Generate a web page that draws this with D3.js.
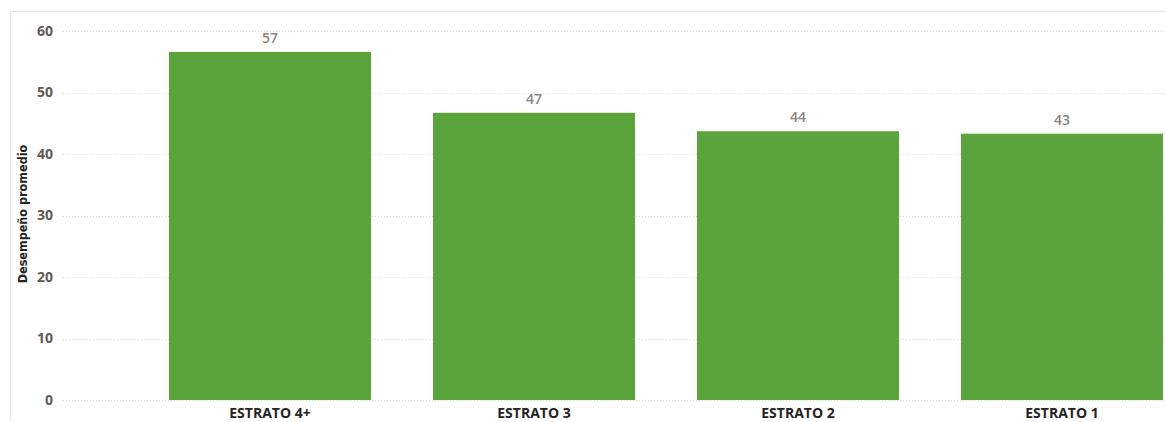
<!DOCTYPE html>
<html lang="es">
<head>
  <meta charset="UTF-8">
  <title>Desempeño promedio por estrato</title>
  <style>
    body { margin: 0; background: #fff; }
    svg { display: block; font-family: "Open Sans", "DejaVu Sans", sans-serif; }
  </style>
</head>
<body>
  <div id="chart"></div>
  <script src="https://cdnjs.cloudflare.com/ajax/libs/d3/7.8.5/d3.min.js"></script>
  <script>
    const categories = ['ESTRATO 4+', 'ESTRATO 3', 'ESTRATO 2', 'ESTRATO 1'];
    const values = [56.6, 46.7, 43.7, 43.3];
    const labels = ['57', '47', '44', '43'];
    const yTicks = [0, 10, 20, 30, 40, 50, 60];

    const width = 1165;
    const height = 422;

    const svg = d3.select('#chart')
      .append('svg')
      .attr('width', width)
      .attr('height', height);

    // card border (top and left edges visible)
    svg.append('line')
      .attr('x1', 10.5).attr('x2', 10.5)
      .attr('y1', 11.5).attr('y2', height)
      .attr('stroke', '#e6e6e6');
    svg.append('line')
      .attr('x1', 10.5).attr('x2', width)
      .attr('y1', 11.5).attr('y2', 11.5)
      .attr('stroke', '#e6e6e6');

    const yScale = d3.scaleLinear()
      .domain([0, 60])
      .range([400, 31]);

    const xScale = d3.scaleBand()
      .domain(categories)
      .range([138, 1194])
      .paddingInner(0.235)
      .paddingOuter(0.1175);

    // gridlines
    svg.append('g')
      .selectAll('line')
      .data(yTicks)
      .join('line')
      .attr('x1', 63)
      .attr('x2', width)
      .attr('y1', d => Math.round(yScale(d)) + 0.5)
      .attr('y2', d => Math.round(yScale(d)) + 0.5)
      .attr('stroke', '#d9d9d9')
      .attr('stroke-dasharray', '1,2');

    // y axis labels
    const yAxis = d3.axisLeft(yScale).tickValues(yTicks).tickSize(0).tickPadding(0);
    const gy = svg.append('g')
      .attr('transform', 'translate(53,0)')
      .call(yAxis);
    gy.select('.domain').remove();
    gy.selectAll('text')
      .attr('font-family', '"Open Sans", sans-serif')
      .attr('font-size', 14)
      .attr('font-weight', 'bold')
      .attr('fill', '#5f5a55');

    // y axis title
    svg.append('text')
      .attr('transform', 'translate(27,214) rotate(-90)')
      .attr('text-anchor', 'middle')
      .attr('font-family', '"DejaVu Sans Condensed", "DejaVu Sans", sans-serif')
      .attr('font-size', 12.5)
      .attr('font-weight', 'bold')
      .attr('fill', '#252423')
      .text('Desempeño promedio');

    // bars
    svg.append('g')
      .selectAll('rect')
      .data(values)
      .join('rect')
      .attr('x', (d, i) => xScale(categories[i]))
      .attr('y', d => yScale(d))
      .attr('width', xScale.bandwidth())
      .attr('height', d => yScale(0) - yScale(d))
      .attr('fill', '#5ba33b');

    // value labels
    svg.append('g')
      .selectAll('text')
      .data(values)
      .join('text')
      .attr('x', (d, i) => xScale(categories[i]) + xScale.bandwidth() / 2)
      .attr('y', d => yScale(d) - 9)
      .attr('text-anchor', 'middle')
      .attr('font-size', 14)
      .attr('font-weight', 600)
      .attr('fill', '#8a8580')
      .text((d, i) => labels[i]);

    // x axis labels
    const xAxis = d3.axisBottom(xScale).tickSize(0).tickPadding(0);
    const gx = svg.append('g')
      .attr('transform', 'translate(0,408)')
      .call(xAxis);
    gx.select('.domain').remove();
    gx.selectAll('text')
      .attr('font-family', '"Open Sans", sans-serif')
      .attr('font-size', 14)
      .attr('font-weight', 'bold')
      .attr('fill', '#252423');
  </script>
</body>
</html>
